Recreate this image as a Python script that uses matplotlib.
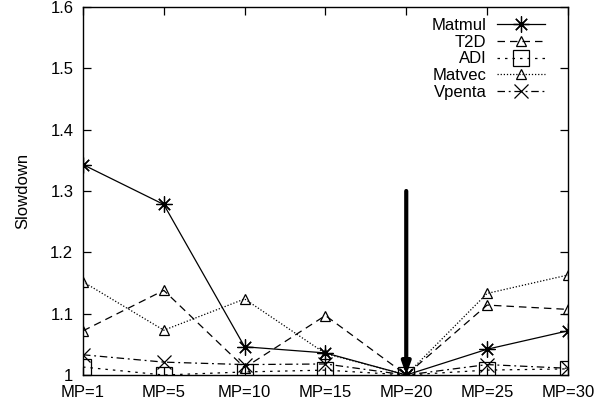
import matplotlib
matplotlib.use("Agg")
import matplotlib.pyplot as plt

plt.rcParams['font.family'] = ['Liberation Sans', 'DejaVu Sans']

# categories on the x axis
mp_labels = ['MP=1', 'MP=5', 'MP=10', 'MP=15', 'MP=20', 'MP=25', 'MP=30']

# slowdown per benchmark
matmul = [1.343, 1.278, 1.046, 1.036, 1.0, 1.042, 1.072]
t2d = [1.072, 1.138, 1.012, 1.097, 1.0, 1.114, 1.107]
adi = [1.013, 1.0, 1.005, 1.008, 1.0, 1.008, 1.010]
matvec = [1.152, 1.073, 1.124, 1.035, 1.0, 1.133, 1.163]
vpenta = [1.033, 1.021, 1.017, 1.018, 1.0, 1.017, 1.011]

arrow_from = 1.3
arrow_to = 1.0
arrow_at = 'MP=20'

x = list(range(len(mp_labels)))

fig = plt.figure(figsize=(6.08, 4.07), dpi=100)
ax = fig.add_axes([0.1365, 0.0786, 0.934 - 0.1365, 0.9828 - 0.0786])

lw = 0.9
ax.plot(x, matmul, color='black', lw=lw, ls='-', marker=(8, 2, 0), ms=11.5,
        mew=lw, label='Matmul')
ax.plot(x, t2d, color='black', lw=lw, ls=(0, (6, 4)), marker='^', ms=7,
        mfc='none', mew=lw, label='T2D')
ax.plot(x, adi, color='black', lw=lw, ls=(0, (2, 4)), marker='s', ms=11.5,
        mfc='none', mew=lw, label='ADI')
ax.plot(x, matvec, color='black', lw=lw, ls=(0, (1, 1.5)), marker='^', ms=7,
        mfc='none', mew=lw, label='Matvec')
ax.plot(x, vpenta, color='black', lw=lw, ls=(0, (6, 3, 1.5, 3)), marker='x',
        ms=9.5, mew=lw, label='Vpenta')

xi = mp_labels.index(arrow_at)
ax.annotate('', xy=(xi, arrow_to), xytext=(xi, arrow_from),
            arrowprops=dict(arrowstyle='-|>,head_length=0.7,head_width=0.25',
                            lw=3, color='black', shrinkA=0, shrinkB=0))

ax.set_xlim(0, len(mp_labels) - 1)
ax.set_ylim(1.0, 1.6)
ax.set_xticks(x)
ax.set_xticklabels(mp_labels)
yt = [1.0, 1.1, 1.2, 1.3, 1.4, 1.5, 1.6]
ax.set_yticks(yt)
ax.set_yticklabels(['%g' % v for v in yt])
ax.tick_params(axis='both', direction='in', length=6, width=0.9,
               labelsize=12, top=True, right=True)
ax.tick_params(axis='y', pad=7)
ax.tick_params(axis='x', pad=7)
for s in ax.spines.values():
    s.set_linewidth(1.0)

ax.set_ylabel('Slowdown', fontsize=12, labelpad=14)

ax.legend(loc='upper right', bbox_to_anchor=(1 - 23 / 485, 1 - 11 / 368),
          frameon=False, markerfirst=False, fontsize=12, numpoints=1,
          handlelength=2.9, handletextpad=0.6, labelspacing=0.1,
          borderpad=0, borderaxespad=0)

fig.savefig('out.png', dpi=100)
